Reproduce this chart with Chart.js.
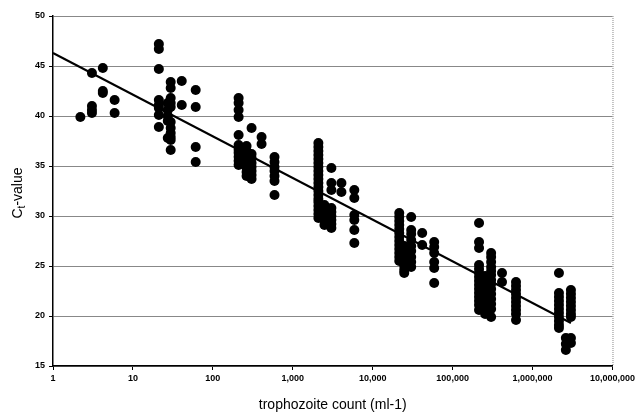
<!DOCTYPE html>
<html>
<head>
<meta charset="utf-8">
<script src="https://cdn.jsdelivr.net/npm/chart.js@4"></script>
<style>
  html, body { margin: 0; padding: 0; background: #fff; }
  canvas { display: block; }
</style>
</head>
<body>
<canvas id="grafico" width="638" height="414"></canvas>
<script>
// trophozoite count per ml, one entry per dilution column
const countLevels = [
    2.2, 3.07, 4.2, 5.9,
    21.1, 27.3, 29.7, 40.8, 61,
    210, 264, 305, 407, 591,
    2090, 2490, 3040, 4060, 5890,
    21500, 24800, 30300, 41600, 58800,
    214000, 255000, 303000, 415000, 621000,
    2140000, 2610000, 3020000
];

// Ct values
const ctByLevel = [
    [39.9],
    [44.3, 41.0, 40.6, 40.3],
    [44.8, 42.5, 42.3],
    [41.6, 40.3],

    [47.2, 46.7, 44.7, 41.6, 41.1, 40.8, 40.1, 38.9],
    [41.3, 40.6, 40.0, 39.5, 37.8],
    [43.4, 42.8, 41.8, 41.3, 40.9, 39.4, 38.8, 38.3, 37.9, 37.6, 36.6],
    [43.5, 41.1],
    [42.6, 40.9, 36.9, 35.4],

    [41.8, 41.3, 40.6, 39.9, 38.1, 37.1, 36.6, 36.3, 35.9, 35.5, 35.1],
    [37.0, 36.5, 36.0, 35.6, 35.2, 34.8, 34.4, 34.0],
    [38.8, 36.2, 35.8, 35.3, 34.9, 34.5, 34.1, 33.7],
    [37.9, 37.2],
    [35.9, 35.4, 34.9, 34.5, 34.0, 33.5, 32.1],

    [37.3, 36.9, 36.5, 36.1, 35.7, 35.3, 34.9, 34.5, 34.1, 33.7, 33.3, 32.9, 32.5, 32.1, 31.7, 31.4, 31.0, 30.6, 30.2, 29.8],
    [31.1, 30.7, 30.3, 29.9, 29.5, 29.1],
    [34.8, 33.3, 32.6, 30.8, 30.4, 30.0, 29.6, 29.2, 28.8],
    [33.3, 32.4],
    [32.6, 31.8, 30.1, 29.6, 28.6, 27.3],

    [30.3, 29.9, 29.5, 29.1, 28.7, 28.3, 27.9, 27.5, 27.1, 26.7, 26.3, 25.9, 25.5],
    [27.0, 26.5, 26.0, 25.5, 25.0, 24.6, 24.3],
    [29.9, 28.6, 28.2, 27.6, 27.0, 26.5, 25.9, 25.4, 24.9],
    [28.3, 27.1],
    [27.4, 26.9, 26.3, 25.4, 24.8, 23.3],

    [29.3, 27.4, 26.8, 25.1, 24.7, 24.3, 23.9, 23.5, 23.1, 22.7, 22.3, 21.9, 21.5, 21.1, 20.6],
    [24.0, 23.5, 23.0, 22.5, 22.0, 21.5, 21.0, 20.5, 20.2],
    [26.3, 25.9, 25.4, 24.9, 24.5, 24.1, 23.6, 23.2, 22.7, 22.2, 21.7, 21.2, 20.7, 19.9],
    [24.3, 23.4],
    [23.4, 23.0, 22.6, 22.2, 21.8, 21.4, 21.0, 20.6, 20.2, 19.6],

    [24.3, 22.3, 21.9, 21.5, 21.1, 20.7, 20.3, 19.9, 19.5, 19.1, 18.8],
    [17.8, 17.2, 16.6],
    [22.6, 22.2, 21.8, 21.4, 21.0, 20.6, 20.2, 19.9, 17.8, 17.3]
];

// regression line end points
const trendX = [1, 3020000];
const trendY = [46.3, 19.3];

const xTicks = [1, 10, 100, 1000, 10000, 100000, 1000000, 10000000];
const yTicks = [15, 20, 25, 30, 35, 40, 45, 50];

const xTitle = "trophozoite count (ml-1)";

/* ------------------------------
   monta os pontos
-------------------------------*/
const pontos = [];
countLevels.forEach((x, i) => {
    ctByLevel[i].forEach(y => pontos.push({ x: x, y: y }));
});

const fonteTick = { family: "Liberation Sans, Arial, sans-serif", size: 9, weight: "bold" };

// eixo Y com subscrito + borda pontilhada à direita
const extras = {
    id: "extras",
    afterDraw(chart) {
        const ctx = chart.ctx;
        const area = chart.chartArea;

        ctx.save();
        ctx.strokeStyle = "#888";
        ctx.lineWidth = 1;
        ctx.setLineDash([1, 1]);
        ctx.beginPath();
        ctx.moveTo(area.right + 0.5, area.top);
        ctx.lineTo(area.right + 0.5, area.bottom);
        ctx.stroke();
        ctx.restore();

        ctx.save();
        ctx.fillStyle = "#000";
        ctx.translate(18, (area.top + area.bottom) / 2 + 2);
        ctx.rotate(-Math.PI / 2);
        ctx.textBaseline = "middle";
        const big = "14px Liberation Sans, Arial, sans-serif";
        const small = "10px Liberation Sans, Arial, sans-serif";
        ctx.font = big;
        const wC = ctx.measureText("C").width;
        const wRest = ctx.measureText("-value").width;
        ctx.font = small;
        const wT = ctx.measureText("t").width;
        let x = -(wC + wT + wRest) / 2;
        ctx.font = big;
        ctx.fillText("C", x, 0);
        x += wC;
        ctx.font = small;
        ctx.fillText("t", x, 4);
        x += wT;
        ctx.font = big;
        ctx.fillText("-value", x, 0);
        ctx.restore();
    }
};

new Chart(document.getElementById("grafico"), {
    type: "scatter",
    data: {
        datasets: [
            {
                data: pontos,
                backgroundColor: "#000",
                borderColor: "#000",
                pointRadius: 5,
                pointHoverRadius: 5,
                borderWidth: 0
            },
            {
                type: "line",
                data: trendX.map((x, i) => ({ x: x, y: trendY[i] })),
                borderColor: "#000",
                borderWidth: 2,
                pointRadius: 0,
                fill: false
            }
        ]
    },
    options: {
        responsive: false,
        animation: false,
        layout: { padding: { top: 16, right: 24, left: 0, bottom: 0 } },
        plugins: {
            legend: { display: false },
            tooltip: { enabled: false }
        },
        scales: {
            x: {
                type: "logarithmic",
                min: 1,
                max: 10000000,
                afterBuildTicks: s => { s.ticks = xTicks.map(v => ({ value: v })); },
                afterFit: s => { s.height = 48; },
                ticks: {
                    color: "#000",
                    font: fonteTick,
                    padding: 3,
                    maxRotation: 0,
                    autoSkip: false,
                    callback: v => Number(v).toLocaleString("en-US")
                },
                grid: { drawOnChartArea: false, tickLength: 4, color: "#000" },
                border: { color: "#000", width: 1.5 },
                title: {
                    display: true,
                    text: xTitle,
                    color: "#000",
                    font: { family: "Liberation Sans, Arial, sans-serif", size: 14 },
                    padding: { top: 13, bottom: 0 }
                }
            },
            y: {
                min: 15,
                max: 50,
                afterBuildTicks: s => { s.ticks = yTicks.map(v => ({ value: v })); },
                afterFit: s => { s.width = 53; },
                ticks: {
                    color: "#000",
                    font: fonteTick,
                    padding: 4
                },
                grid: {
                    color: "#888",
                    borderDash: [1, 1],
                    tickLength: 4,
                    tickColor: "#000",
                    tickBorderDash: []
                },
                border: { color: "#000", width: 1.5 }
            }
        }
    },
    plugins: [extras]
});
</script>
</body>
</html>
